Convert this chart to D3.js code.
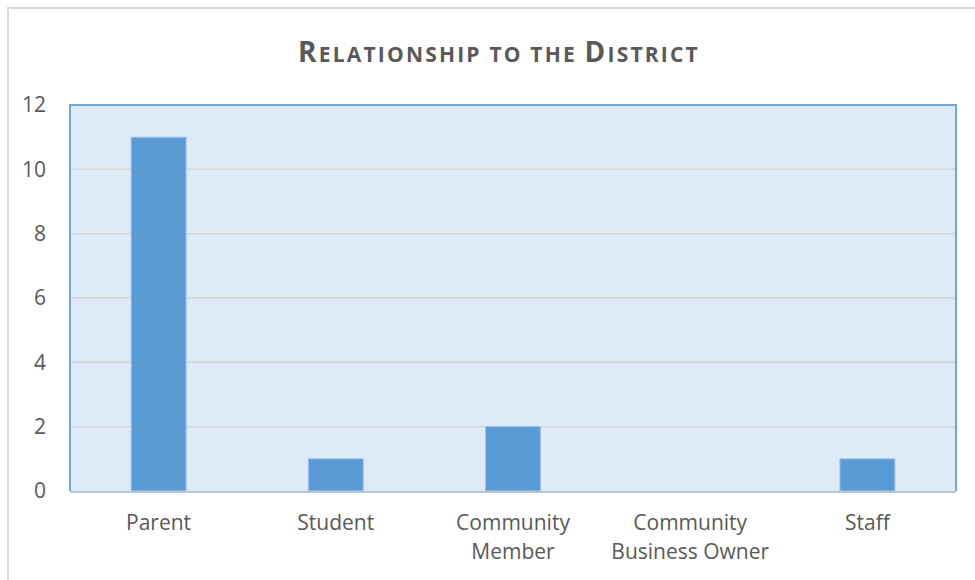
<!DOCTYPE html>
<html>
<head>
<meta charset="utf-8">
<script src="https://cdn.jsdelivr.net/npm/d3@7"></script>
<style>
  html, body { margin: 0; padding: 0; background: #fff; }
  svg { display: block; font-family: "Open Sans", sans-serif; }
</style>
</head>
<body>
<div id="chart"></div>
<script>
// chart data
const categories = [["Parent"], ["Student"], ["Community", "Member"], ["Community", "Business Owner"], ["Staff"]];
const values = [11, 1, 2, 0, 1];
const yTicks = [0, 2, 4, 6, 8, 10, 12];
const title = "Relationship to the District";

const width = 975, height = 580;
const margin = {top: 105, right: 19, bottom: 89, left: 70};
const textColor = '#595959';

const svg = d3.select('#chart').append('svg')
  .attr('width', width)
  .attr('height', height);

// outer chart frame (runs off the right and bottom edge)
svg.append('rect')
  .attr('x', 8).attr('y', 8)
  .attr('width', width + 10).attr('height', height + 10)
  .attr('fill', '#fff')
  .attr('stroke', '#d9d9d9')
  .attr('stroke-width', 2);

// title in small caps, built from runs of capitals / lower case letters
const runs = [];
for (const ch of title) {
  const big = ch !== ch.toLowerCase();
  const last = runs[runs.length - 1];
  if (last && last.big === big) last.text += ch;
  else runs.push({big, text: ch});
}
svg.append('text')
  .attr('x', 499)
  .attr('y', 62)
  .attr('text-anchor', 'middle')
  .attr('fill', textColor)
  .attr('font-weight', 'bold')
  .attr('letter-spacing', 2.2)
  .selectAll('tspan')
  .data(runs)
  .join('tspan')
  .attr('font-size', d => d.big ? 28 : 21)
  .text(d => d.text.toUpperCase());

const x = d3.scaleBand()
  .domain(d3.range(categories.length))
  .range([margin.left, width - margin.right])
  .paddingInner(0.69)
  .paddingOuter(0.345);

const y = d3.scaleLinear()
  .domain([0, 12])
  .range([height - margin.bottom, margin.top]);

// plot background
svg.append('rect')
  .attr('x', margin.left)
  .attr('y', y(12))
  .attr('width', width - margin.right - margin.left)
  .attr('height', y(0) - y(12))
  .attr('fill', '#deeaf6');

// gridlines
svg.append('g')
  .selectAll('line')
  .data(yTicks.filter(d => d > 0 && d < 12))
  .join('line')
  .attr('x1', margin.left)
  .attr('x2', width - margin.right)
  .attr('y1', d => y(d))
  .attr('y2', d => y(d))
  .attr('stroke', '#d6d6d6')
  .attr('stroke-width', 1.5);

// bars
svg.append('g')
  .selectAll('rect')
  .data(values)
  .join('rect')
  .attr('x', (d, i) => x(i))
  .attr('y', d => y(d))
  .attr('width', x.bandwidth())
  .attr('height', d => y(0) - y(d))
  .attr('fill', '#5b9bd5')
  .attr('stroke', '#9dc3e6')
  .attr('stroke-width', d => d > 0 ? 1 : 0);

// plot frame: blue on top, left, right
svg.append('path')
  .attr('d', `M${margin.left},${y(0)}V${y(12)}H${width - margin.right}V${y(0)}`)
  .attr('fill', 'none')
  .attr('stroke', '#5b9bd5')
  .attr('stroke-opacity', 0.85)
  .attr('stroke-width', 2);

// category axis line
svg.append('line')
  .attr('x1', margin.left)
  .attr('x2', width - margin.right)
  .attr('y1', y(0) + 1)
  .attr('y2', y(0) + 1)
  .attr('stroke', '#b4c7dc')
  .attr('stroke-width', 2);

// y axis labels
const yAxis = d3.axisLeft(y).tickValues(yTicks).tickSize(0).tickPadding(24);
svg.append('g')
  .attr('transform', `translate(${margin.left},0)`)
  .call(yAxis)
  .call(g => g.select('.domain').remove())
  .call(g => g.selectAll('text')
    .attr('fill', textColor)
    .attr('font-size', 21)
    .attr('font-family', '"Open Sans", sans-serif'));

// x labels
const xl = svg.append('g')
  .selectAll('text')
  .data(categories)
  .join('text')
  .attr('x', (d, i) => x(i) + x.bandwidth() / 2)
  .attr('y', 530)
  .attr('text-anchor', 'middle')
  .attr('fill', textColor)
  .attr('font-size', 21);
xl.selectAll('tspan')
  .data(d => d)
  .join('tspan')
  .attr('x', function () { return d3.select(this.parentNode).attr('x'); })
  .attr('dy', (d, i) => i === 0 ? 0 : 29)
  .text(d => d);
</script>
</body>
</html>
